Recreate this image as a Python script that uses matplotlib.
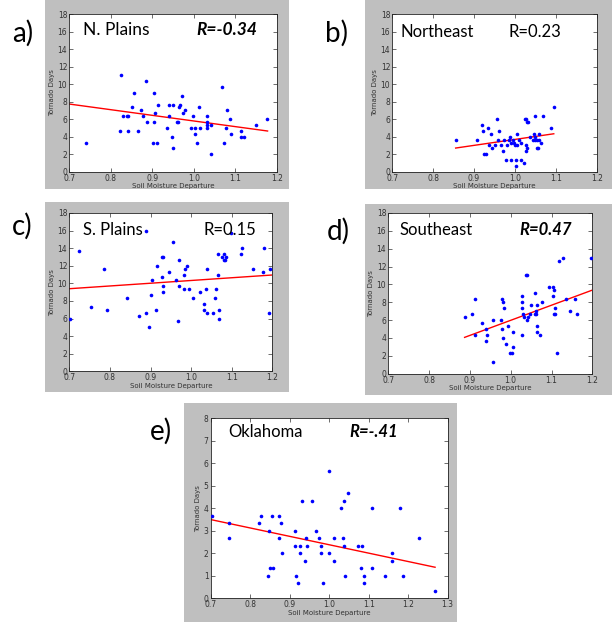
import matplotlib
matplotlib.use("Agg")
import matplotlib.pyplot as plt
from matplotlib.patches import Rectangle
import numpy as np

# ---------------- data ----------------
a_x = [0.740,0.824,0.822,0.829,0.838,0.841,0.841,0.851,0.856,0.866,0.874,0.877,0.884,0.887,0.901,0.903,0.903,0.907,0.911,0.915,0.935,0.940,0.941,0.948,0.949,0.951,0.959,0.961,0.964,0.967,0.971,0.973,0.980,0.993,0.999,1.002,1.002,1.009,1.012,1.015,1.031,1.031,1.031,1.033,1.041,1.042,1.068,1.073,1.078,1.081,1.087,1.091,1.113,1.113,1.120,1.150,1.176]
a_y = [3.33,11.0,4.67,6.33,6.33,6.33,4.67,7.33,9.0,4.67,7.0,6.33,10.33,5.67,3.33,9.0,5.67,6.67,3.33,7.67,5.0,7.67,6.33,4.0,7.67,2.67,5.67,5.67,7.33,7.67,8.67,6.67,7.0,5.0,6.33,5.0,4.33,3.33,7.33,5.0,6.33,5.67,5.33,5.0,2.0,5.33,9.67,3.33,5.0,7.0,6.0,4.33,4.67,4.0,4.0,5.33,6.0]

b_x = [0.855,0.908,0.920,0.923,0.925,0.928,0.934,0.936,0.941,0.945,0.952,0.955,0.959,0.961,0.967,0.972,0.974,0.977,0.980,0.985,0.989,0.991,0.991,0.996,0.997,1.001,1.003,1.003,1.004,1.005,1.009,1.016,1.016,1.023,1.024,1.026,1.027,1.028,1.029,1.030,1.032,1.037,1.043,1.047,1.048,1.049,1.050,1.053,1.054,1.057,1.058,1.060,1.063,1.068,1.087,1.095]
b_y = [3.67,3.67,5.33,4.67,2.0,2.0,5.0,3.0,4.33,2.67,3.0,6.0,3.67,4.67,3.0,2.33,3.67,1.33,3.0,3.67,4.0,3.33,1.33,3.67,3.33,3.0,1.33,0.67,3.0,4.33,3.67,3.33,1.33,1.0,6.0,2.33,3.0,6.0,2.67,5.67,5.67,4.0,3.67,4.33,4.0,3.67,6.33,3.67,2.67,2.67,4.33,3.67,3.33,6.33,5.0,7.33]

c_x = [0.702,0.725,0.754,0.785,0.792,0.841,0.871,0.890,0.889,0.896,0.900,0.904,0.913,0.916,0.928,0.930,0.928,0.932,0.932,0.945,0.956,0.963,0.968,0.971,0.971,0.982,0.984,0.982,0.991,0.996,1.004,1.023,1.033,1.033,1.037,1.040,1.040,1.055,1.058,1.061,1.066,1.067,1.069,1.068,1.075,1.081,1.082,1.084,1.086,1.099,1.124,1.125,1.152,1.178,1.179,1.193,1.194]
c_y = [6.0,13.67,7.33,11.67,7.0,8.33,6.33,6.67,16.0,5.0,8.67,10.33,7.0,12.0,10.67,9.0,13.0,13.0,9.67,11.33,14.67,10.33,5.67,12.67,9.67,11.0,11.67,9.33,12.0,9.33,8.33,9.0,7.67,7.0,9.33,11.67,6.67,6.67,8.33,9.33,11.0,13.33,7.0,6.0,13.0,12.67,13.33,12.67,13.0,15.67,13.33,14.0,11.67,11.33,14.0,6.67,11.67]

d_x = [0.887,0.906,0.912,0.913,0.930,0.939,0.941,0.939,0.956,0.956,0.977,0.979,0.980,0.979,0.982,0.983,0.988,0.993,0.998,1.002,1.005,1.006,1.027,1.028,1.028,1.028,1.029,1.032,1.037,1.041,1.039,1.043,1.047,1.050,1.059,1.059,1.062,1.063,1.064,1.064,1.065,1.072,1.076,1.093,1.103,1.103,1.106,1.106,1.109,1.109,1.114,1.118,1.127,1.135,1.145,1.158,1.162,1.198]
d_y = [6.33,6.67,4.33,8.33,5.67,5.0,4.33,3.67,6.0,1.33,6.0,8.33,8.0,5.0,4.0,7.33,3.33,5.33,2.33,2.33,4.67,3.0,8.67,8.0,7.33,4.33,6.67,6.33,11.0,11.0,6.0,6.33,6.67,7.67,9.0,6.67,6.67,7.0,5.33,4.67,7.67,4.33,8.0,9.67,9.67,8.67,9.33,6.67,6.67,7.33,2.33,12.67,13.0,8.33,7.0,8.33,6.67,13.0]

e_x = [0.703,0.747,0.747,0.823,0.828,0.847,0.845,0.850,0.858,0.855,0.873,0.872,0.878,0.880,0.913,0.913,0.916,0.921,0.925,0.925,0.930,0.940,0.942,0.945,0.957,0.967,0.975,0.978,0.980,0.984,0.999,1.000,1.013,1.013,1.029,1.035,1.038,1.038,1.041,1.047,1.073,1.083,1.080,1.088,1.087,1.109,1.108,1.141,1.158,1.160,1.178,1.186,1.228,1.268]
e_y = [3.67,3.33,2.67,3.33,3.67,3.0,1.0,1.33,1.33,3.67,3.67,2.67,3.33,2.0,3.0,2.33,1.0,0.67,2.33,2.0,4.33,1.67,2.67,2.33,4.33,3.0,2.67,2.33,2.0,0.67,2.0,5.67,2.67,1.67,4.0,2.67,4.33,2.33,1.0,4.67,2.33,2.33,1.33,1.0,0.67,4.0,1.33,1.0,2.0,1.67,4.0,1.0,2.67,0.33]

regions = ["N. Plains", "Northeast", "S. Plains", "Southeast", "Oklahoma"]
r_labels = ["R=-0.34", "R=0.23", "R=0.15", "R=0.47", "R=-.41"]
r_bold = [True, False, False, True, True]
panel_letters = ["a)", "b)", "c)", "d)", "e)"]
xs = [a_x, b_x, c_x, d_x, e_x]
ys = [a_y, b_y, c_y, d_y, e_y]
fit_slope = [-6.44, 6.79, 3.12, 16.91, -3.73]
fit_intercept = [12.23, -3.106, 7.206, -10.93, 6.11]
fit_xmin = [0.70, 0.855, 0.70, 0.887, 0.70]
fit_xmax = [1.178, 1.095, 1.20, 1.198, 1.268]
x_limits = [(0.7, 1.2)] * 4 + [(0.7, 1.3)]
y_limits = [(0, 18)] * 4 + [(0, 8)]
y_steps = [2, 2, 2, 2, 1]

# ---------------- layout (pixels) ----------------
W, H = 612, 622
fig = plt.figure(figsize=(W / 100, H / 100), dpi=100)
fig.patch.set_facecolor("white")

gray_boxes = [(45, 0, 289, 189), (365, 0, 612, 189), (45, 202, 289, 392),
              (365, 204, 612, 395), (184, 403, 457, 622)]
axes_boxes = [(69.3, 14, 276.7, 171.7), (392.3, 14, 596.7, 171.7),
              (69.3, 213, 272.3, 371.3), (388.3, 213, 592.3, 373.7),
              (210.7, 418.3, 447.7, 598.3)]
title_pos = [(0.065, 0.867), (0.038, 0.856), (0.069, 0.859), (0.054, 0.861), (0.074, 0.898)]
r_pos = [(0.614, 0.867), (0.568, 0.856), (0.663, 0.859), (0.642, 0.861), (0.585, 0.898)]
title_size = [12.5, 12, 12, 12, 12]
letter_pos = [(12, 42), (325, 42), (12, 235), (327, 240), (150, 440)]

for (x0, y0, x1, y1) in gray_boxes:
    fig.add_artist(Rectangle((x0 / W, 1 - y1 / H), (x1 - x0) / W, (y1 - y0) / H,
                             transform=fig.transFigure, facecolor="#bfbfbf",
                             edgecolor="none", zorder=-10))

title_font = "Lato"
for i in range(5):
    x0, y0, x1, y1 = axes_boxes[i]
    ax = fig.add_axes([x0 / W, 1 - y1 / H, (x1 - x0) / W, (y1 - y0) / H])
    ax.set_zorder(5)
    ax.set_facecolor("white")
    ax.plot(xs[i], ys[i], "o", color="#0000ff", markersize=2.6, markeredgewidth=0, zorder=3)
    fx = np.array([fit_xmin[i], fit_xmax[i]])
    ax.plot(fx, fit_slope[i] * fx + fit_intercept[i], color="#ff0000", lw=1.0, zorder=2)
    ax.set_xlim(*x_limits[i])
    ax.set_ylim(*y_limits[i])
    xt = np.arange(x_limits[i][0], x_limits[i][1] + 0.001, 0.1)
    ax.set_xticks(xt)
    ax.set_xticklabels(["%.1f" % v for v in xt])
    ax.set_yticks(np.arange(y_limits[i][0], y_limits[i][1] + 0.001, y_steps[i]))
    ax.tick_params(direction="in", top=True, right=True, length=3, width=0.5,
                   labelsize=5.5, pad=1.5, colors="#333333")
    for s in ax.spines.values():
        s.set_linewidth(0.6)
        s.set_color("#222222")
    ax.set_xlabel("Soil Moisture Departure", fontsize=5, labelpad=0.5, color="#333333")
    ax.set_ylabel("Tornado Days", fontsize=5, labelpad=2, color="#333333")
    ax.text(title_pos[i][0], title_pos[i][1], regions[i], transform=ax.transAxes,
            fontsize=title_size[i], family=title_font, color="black")
    if r_bold[i]:
        ax.text(r_pos[i][0], r_pos[i][1], r_labels[i], transform=ax.transAxes,
                fontsize=title_size[i], family=title_font, fontweight="bold",
                style="italic", color="black")
    else:
        ax.text(r_pos[i][0], r_pos[i][1], r_labels[i], transform=ax.transAxes,
                fontsize=title_size[i], family=title_font, color="black")
    lx, ly = letter_pos[i]
    fig.text(lx / W, 1 - ly / H, panel_letters[i], fontsize=20, family=title_font,
             color="black")

fig.savefig("out.png", dpi=100, facecolor="white")
